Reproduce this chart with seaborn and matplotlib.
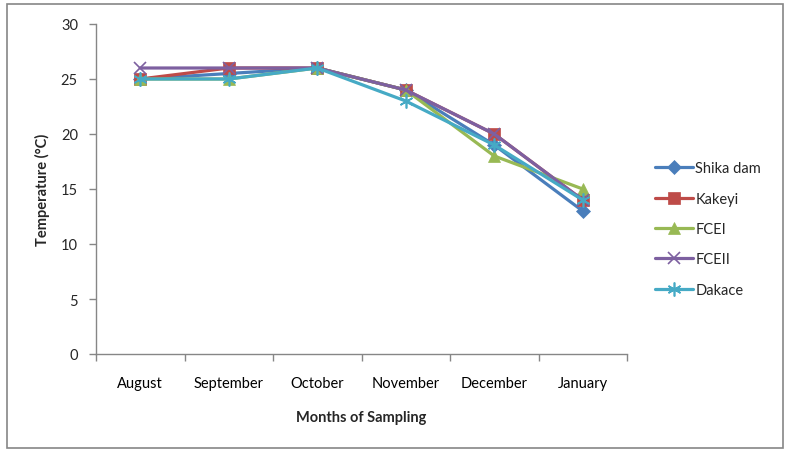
import matplotlib
matplotlib.use("Agg")
import matplotlib.pyplot as plt
import seaborn as sns
import pandas as pd
from matplotlib.patches import Rectangle
from matplotlib.ticker import FixedLocator, NullFormatter

months = ["August", "September", "October", "November", "December", "January"]
shika_dam = [25, 25.5, 26, 24, 19, 13]
kakeyi = [25, 26, 26, 24, 20, 14]
fcei = [25, 25, 26, 24, 18, 15]
fceii = [26, 26, 26, 24, 20, 14]
dakace = [25, 25, 26, 23, 19, 14]

series_names = ["Shika dam", "Kakeyi", "FCEI", "FCEII", "Dakace"]
series_vals = [shika_dam, kakeyi, fcei, fceii, dakace]
colors = ["#4A7EBB", "#BE4B48", "#98B954", "#7D60A0", "#46AAC5"]
markers = ["D", "s", "^", "x", (6, 2, 0)]
msizes = [7, 9, 9, 9, 10]

rows = []
for name, vals in zip(series_names, series_vals):
    for m, v in zip(months, vals):
        rows.append({"Month": m, "Temp": v, "Site": name})
df = pd.DataFrame(rows)

sns.set_style("white")
plt.rcParams["font.family"] = ["Lato", "DejaVu Sans"]

fig = plt.figure(figsize=(7.89, 4.56), dpi=100)
ax = fig.add_axes([96 / 789, 1 - 355 / 456, (627 - 96) / 789, (355 - 25) / 456])

for name, c, mk, ms in zip(series_names, colors, markers, msizes):
    sub = df[df["Site"] == name]
    sns.lineplot(data=sub, x="Month", y="Temp", ax=ax, color=c, marker=mk,
                 markersize=ms, linewidth=2.3, markeredgecolor=c,
                 markeredgewidth=1.2 if mk in ("x", (6, 2, 0)) else 0.5,
                 label=name, sort=False)

ax.set_xlim(-0.5, len(months) - 0.5)
ax.set_ylim(0, 30)
ax.set_yticks(range(0, 31, 5))
ax.set_xticks(range(len(months)))
ax.set_xticklabels(months)
ax.xaxis.set_minor_locator(FixedLocator([i - 0.5 for i in range(len(months) + 1)]))
ax.xaxis.set_minor_formatter(NullFormatter())
ax.tick_params(axis="x", which="major", length=0, pad=16, labelsize=10.5, colors="black")
ax.tick_params(axis="x", which="minor", length=5, width=1, color="#868686", bottom=True)
ax.tick_params(axis="y", which="major", length=5, width=1, color="#868686", left=True, labelsize=10.5, pad=8)

for s in ["top", "right"]:
    ax.spines[s].set_visible(False)
for s in ["left", "bottom"]:
    ax.spines[s].set_color("#868686")
    ax.spines[s].set_linewidth(1)

ax.set_xlabel("Months of Sampling", fontsize=10.5, fontweight="bold", labelpad=14)
ax.set_ylabel("Temperature (°C)", fontsize=10.5, fontweight="bold", labelpad=8)
ax.legend_.remove()

handles, labels = ax.get_legend_handles_labels()
fig.legend(handles, labels, loc="upper left", bbox_to_anchor=(648 / 789, 1 - 155 / 456),
           frameon=False, fontsize=10.5, handlelength=2.6, handletextpad=0.15,
           labelspacing=1.12, borderpad=0)

fig.patches.append(Rectangle((7 / 789, 1 - 449 / 456), (783 - 7) / 789, (449 - 5) / 456,
                             transform=fig.transFigure, fill=False, edgecolor="#868686",
                             linewidth=1.2))

fig.savefig("out.png", dpi=100, facecolor="white")
